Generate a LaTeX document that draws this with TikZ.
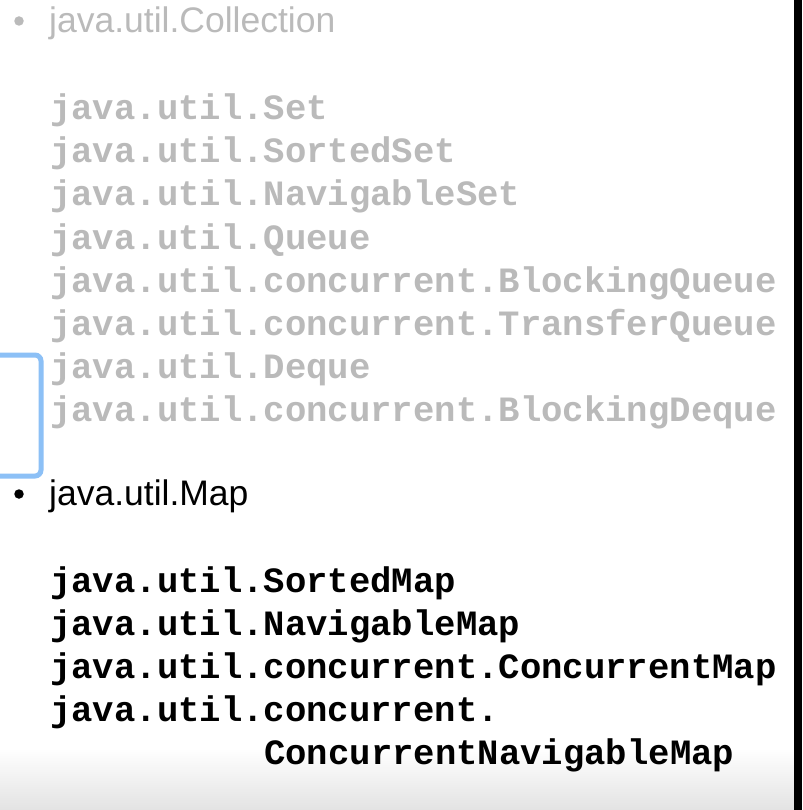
\documentclass[tikz,border=0pt]{standalone}
\usepackage{fontspec}
\setmainfont{Liberation Sans}
\setmonofont{Liberation Mono}
\usepackage{tikz}

\definecolor{fadedtext}{RGB}{186,186,186}
\definecolor{selblue}{RGB}{140,192,246}

\tikzset{
    bullettext/.style={anchor=base west, inner sep=0pt, font=\fontsize{35.5}{42}\selectfont},
    codeline/.style={anchor=base west, inner sep=0pt, font=\fontsize{35.6}{42}\selectfont\ttfamily\bfseries},
    dot/.style={circle, inner sep=0pt, minimum size=9.5pt}
}

\begin{document}
\begin{tikzpicture}[x=1pt, y=-1pt]
    % Page frame
    \useasboundingbox (0,0) rectangle (802,810);
    \fill[white] (0,0) rectangle (802,810);
    \shade[top color=white, bottom color=black!11] (0,748) rectangle (794,810);
    \fill[black] (794,0) rectangle (802,810);

    % Faded first bullet
    \node[dot, fill=fadedtext] (colldot) at (19,21) {};
    \node[bullettext, text=fadedtext] (collection) at (49,33) {java.util.Collection};

    % Interfaces under Collection
    \node[codeline, text=fadedtext] (set) at (50,120) {java.util.Set};
    \node[codeline, text=fadedtext] (sortedset) at (50,163) {java.util.SortedSet};
    \node[codeline, text=fadedtext] (navset) at (50,206) {java.util.NavigableSet};
    \node[codeline, text=fadedtext] (queue) at (50,249) {java.util.Queue};
    \node[codeline, text=fadedtext] (blockqueue) at (50,292) {java.util.concurrent.BlockingQueue};
    \node[codeline, text=fadedtext] (transqueue) at (50,335) {java.util.concurrent.TransferQueue};
    \node[codeline, text=fadedtext] (deque) at (50,378) {java.util.Deque};
    \node[codeline, text=fadedtext] (blockdeque) at (50,421) {java.util.concurrent.BlockingDeque};

    % Selection box at the left edge
    \draw[selblue, line width=5pt, rounded corners=6pt] (-20,355) rectangle (41,476);

    % Second bullet
    \node[dot, fill=black] (mapdot) at (19,494) {};
    \node[bullettext, text=black] (map) at (49,505) {java.util.Map};

    % Interfaces under Map
    \node[codeline] (sortedmap) at (50,592) {java.util.SortedMap};
    \node[codeline] (navmap) at (50,635) {java.util.NavigableMap};
    \node[codeline] (concmap) at (50,678) {java.util.concurrent.ConcurrentMap};
    \node[codeline] (concpkg) at (50,721) {java.util.concurrent.};
    \node[codeline] (concnavmap) at (264,764) {ConcurrentNavigableMap};
\end{tikzpicture}
\end{document}
